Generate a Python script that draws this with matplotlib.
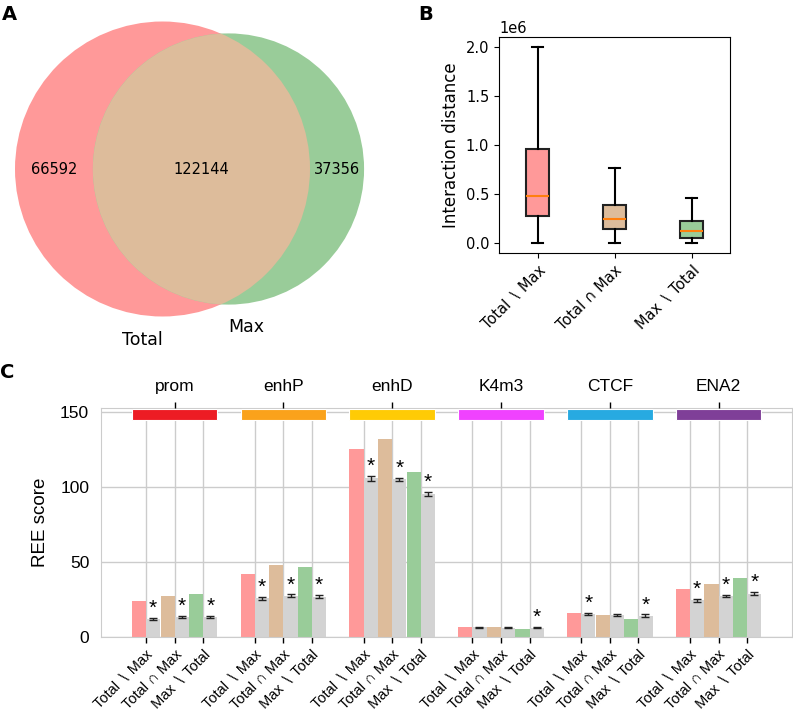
import numpy as np
import matplotlib.pyplot as plt
from matplotlib.patches import Circle, Rectangle

# ---- data ----
venn_only_total = 66592
venn_both = 122144
venn_only_max = 37356
set_names = ["Total", "Max"]

subsets = ["Total \u2216 Max", "Total \u2229 Max", "Max \u2216 Total"]

# box stats for interaction distance
box_whislo = [0.005e6, 0.003e6, 0.003e6]
box_q1 = [0.275e6, 0.139e6, 0.054e6]
box_med = [0.485e6, 0.245e6, 0.125e6]
box_q3 = [0.963e6, 0.393e6, 0.220e6]
box_whishi = [2.0e6, 0.767e6, 0.465e6]

groups = ["prom", "enhP", "enhD", "K4m3", "CTCF", "ENA2"]
group_colors = ["#ED1C24", "#FAA21B", "#FFCB05", "#F042FF", "#27AAE1", "#7F3F98"]
ree_obs = [
    [23.9, 27.2, 28.8],
    [42.0, 47.8, 46.9],
    [125.6, 132.3, 110.0],
    [6.7, 6.5, 5.4],
    [16.1, 15.0, 11.8],
    [31.9, 35.7, 39.1],
]
ree_null = [
    [12.0, 13.4, 13.5],
    [25.9, 27.5, 27.0],
    [106.0, 105.3, 95.5],
    [6.5, 6.3, 6.3],
    [15.2, 14.8, 14.3],
    [24.6, 27.2, 29.0],
]
ree_err = [
    [0.5, 0.6, 0.8],
    [1.0, 0.9, 1.1],
    [1.6, 1.0, 1.6],
    [0.4, 0.4, 0.5],
    [0.8, 0.5, 0.8],
    [0.9, 0.7, 0.9],
]
signif = [
    [True, True, True],
    [True, True, True],
    [True, True, True],
    [False, False, True],
    [True, False, True],
    [True, True, True],
]

pink = "#FF9999"
tan = "#DDBC9B"
green = "#99CC99"
set_colors = [pink, tan, green]

W, H = 793, 711
fig = plt.figure(figsize=(W / 100, H / 100), dpi=100)


def px_axes(left, top, right, bottom):
    return fig.add_axes([left / W, 1 - bottom / H, (right - left) / W, (bottom - top) / H])


# ---- A: venn ----
axA = px_axes(0, 0, 400, 345)
axA.set_xlim(0, 400)
axA.set_ylim(345, 0)
axA.axis("off")

size_t = venn_only_total + venn_both
size_m = venn_only_max + venn_both
r_t = 147.5
k = np.pi * r_t ** 2 / size_t
r_m = np.sqrt(size_m * k / np.pi)
target = venn_both * k


def lens(d, r1, r2):
    a1 = r1 ** 2 * np.arccos((d ** 2 + r1 ** 2 - r2 ** 2) / (2 * d * r1))
    a2 = r2 ** 2 * np.arccos((d ** 2 + r2 ** 2 - r1 ** 2) / (2 * d * r2))
    a3 = 0.5 * np.sqrt((-d + r1 + r2) * (d + r1 - r2) * (d - r1 + r2) * (d + r1 + r2))
    return a1 + a2 - a3


# distance between centres so the lens area matches the overlap count
lo, hi = abs(r_t - r_m) + 1e-6, r_t + r_m - 1e-6
for _ in range(100):
    mid = (lo + hi) / 2
    if lens(mid, r_t, r_m) > target:
        lo = mid
    else:
        hi = mid
d = (lo + hi) / 2

cx_t, cy = 162.5, 169
cx_m = cx_t + d
c_t = Circle((cx_t, cy), r_t, color=pink, lw=0)
c_m = Circle((cx_m, cy), r_m, color=green, lw=0)
axA.add_patch(c_t)
axA.add_patch(c_m)
c_both = Circle((cx_m, cy), r_m, color=tan, lw=0)
axA.add_patch(c_both)
c_both.set_clip_path(c_t)

axA.text(((cx_t - r_t) + (cx_m - r_m)) / 2, cy, str(venn_only_total), ha="center", va="center", fontsize=10.5)
axA.text(((cx_m - r_m) + (cx_t + r_t)) / 2, cy, str(venn_both), ha="center", va="center", fontsize=10.5)
axA.text(((cx_t + r_t) + (cx_m + r_m)) / 2, cy, str(venn_only_max), ha="center", va="center", fontsize=10.5)
axA.text(cx_t - 20, cy + r_t + 23, set_names[0], ha="center", va="center", fontsize=12.5)
axA.text(cx_m + 18, cy + r_m + 22, set_names[1], ha="center", va="center", fontsize=12.5)

# ---- B: boxplot ----
axB = px_axes(499, 37, 730, 253)
stats = []
for i in range(3):
    stats.append(dict(whislo=box_whislo[i], q1=box_q1[i], med=box_med[i],
                      q3=box_q3[i], whishi=box_whishi[i], fliers=[]))
bp = axB.bxp(stats, patch_artist=True, showfliers=False,
             boxprops=dict(linewidth=1.5),
             whiskerprops=dict(linewidth=1.5),
             capprops=dict(linewidth=1.5),
             medianprops=dict(color="#FF7F0E", linewidth=1.5))
for patch, col in zip(bp["boxes"], set_colors):
    patch.set_facecolor(col)
    patch.set_edgecolor("#222222")
axB.set_xlim(0.5, 3.5)
axB.set_ylim(-0.102e6, 2.105e6)
axB.set_yticks([0, 0.5e6, 1.0e6, 1.5e6, 2.0e6])
axB.set_xticks([1, 2, 3])
axB.set_xticklabels(subsets, rotation=45, ha="right", rotation_mode="anchor", fontsize=10.5)
axB.tick_params(axis="y", labelsize=10.5)
axB.yaxis.get_offset_text().set_fontsize(10.5)
axB.set_ylabel("Interaction distance", fontsize=12)

# ---- C: REE bars ----
cfam = ["Liberation Sans", "DejaVu Sans"]
axC = px_axes(101, 408, 792, 637)
offsets = np.array([-0.263, 0.0, 0.263])
bw = 0.13
xpos = np.arange(len(groups))
tick_x = []
tick_lab = []
for g in range(len(groups)):
    centers = xpos[g] + offsets
    axC.bar(centers - bw / 2, ree_obs[g], width=bw, color=set_colors, zorder=2)
    axC.bar(centers + bw / 2, ree_null[g], width=bw, color="#D3D3D3", zorder=2)
    axC.errorbar(centers + bw / 2, ree_null[g], yerr=ree_err[g], fmt="none",
                 ecolor="#222222", elinewidth=1, capsize=3, capthick=1, zorder=3)
    for j in range(3):
        if signif[g][j]:
            axC.annotate("*", (centers[j] + bw / 2, ree_null[g][j] + ree_err[g][j]),
                         xytext=(0, 0), textcoords="offset points", ha="center",
                         va="bottom", fontsize=15, family=cfam, zorder=4)
    axC.add_patch(Rectangle((centers[0] - bw, 145), centers[2] - centers[0] + 2 * bw, 7.6,
                            facecolor=group_colors[g], edgecolor="white", lw=0.8, zorder=3))
    tick_x.extend(centers)
    tick_lab.extend(subsets)

axC.set_xlim(-0.677, len(groups) - 1 + 0.675)
axC.set_ylim(0, 153)
axC.set_yticks([0, 50, 100, 150])
axC.set_xticks(tick_x)
axC.set_xticklabels(tick_lab, rotation=45, ha="right", rotation_mode="anchor",
                    fontsize=10.5, family=cfam)
for lab in axC.get_yticklabels():
    lab.set_family(cfam)
axC.tick_params(axis="y", labelsize=12.5, length=0, pad=8.5)
axC.tick_params(axis="x", length=4, width=1, color="black")
axC.grid(True, color="#CCCCCC", lw=1, zorder=0)
axC.set_axisbelow(True)
for sp in axC.spines.values():
    sp.set_color("#CCCCCC")
axC.set_ylabel("REE score", fontsize=13.5, family=cfam, labelpad=8)

axT = axC.twiny()
axT.set_xlim(axC.get_xlim())
axT.set_xticks(xpos)
axT.set_xticklabels(groups, fontsize=12.5, family=cfam)
axT.tick_params(axis="x", length=4, width=1, color="black", pad=6)
for sp in axT.spines.values():
    sp.set_visible(False)

# panel letters
fig.text(2 / W, 1 - 20 / H, "A", fontsize=14, fontweight="bold")
fig.text(418 / W, 1 - 20 / H, "B", fontsize=14, fontweight="bold")
fig.text(0 / W, 1 - 378 / H, "C", fontsize=14, fontweight="bold")

fig.savefig("out.png", dpi=100)
